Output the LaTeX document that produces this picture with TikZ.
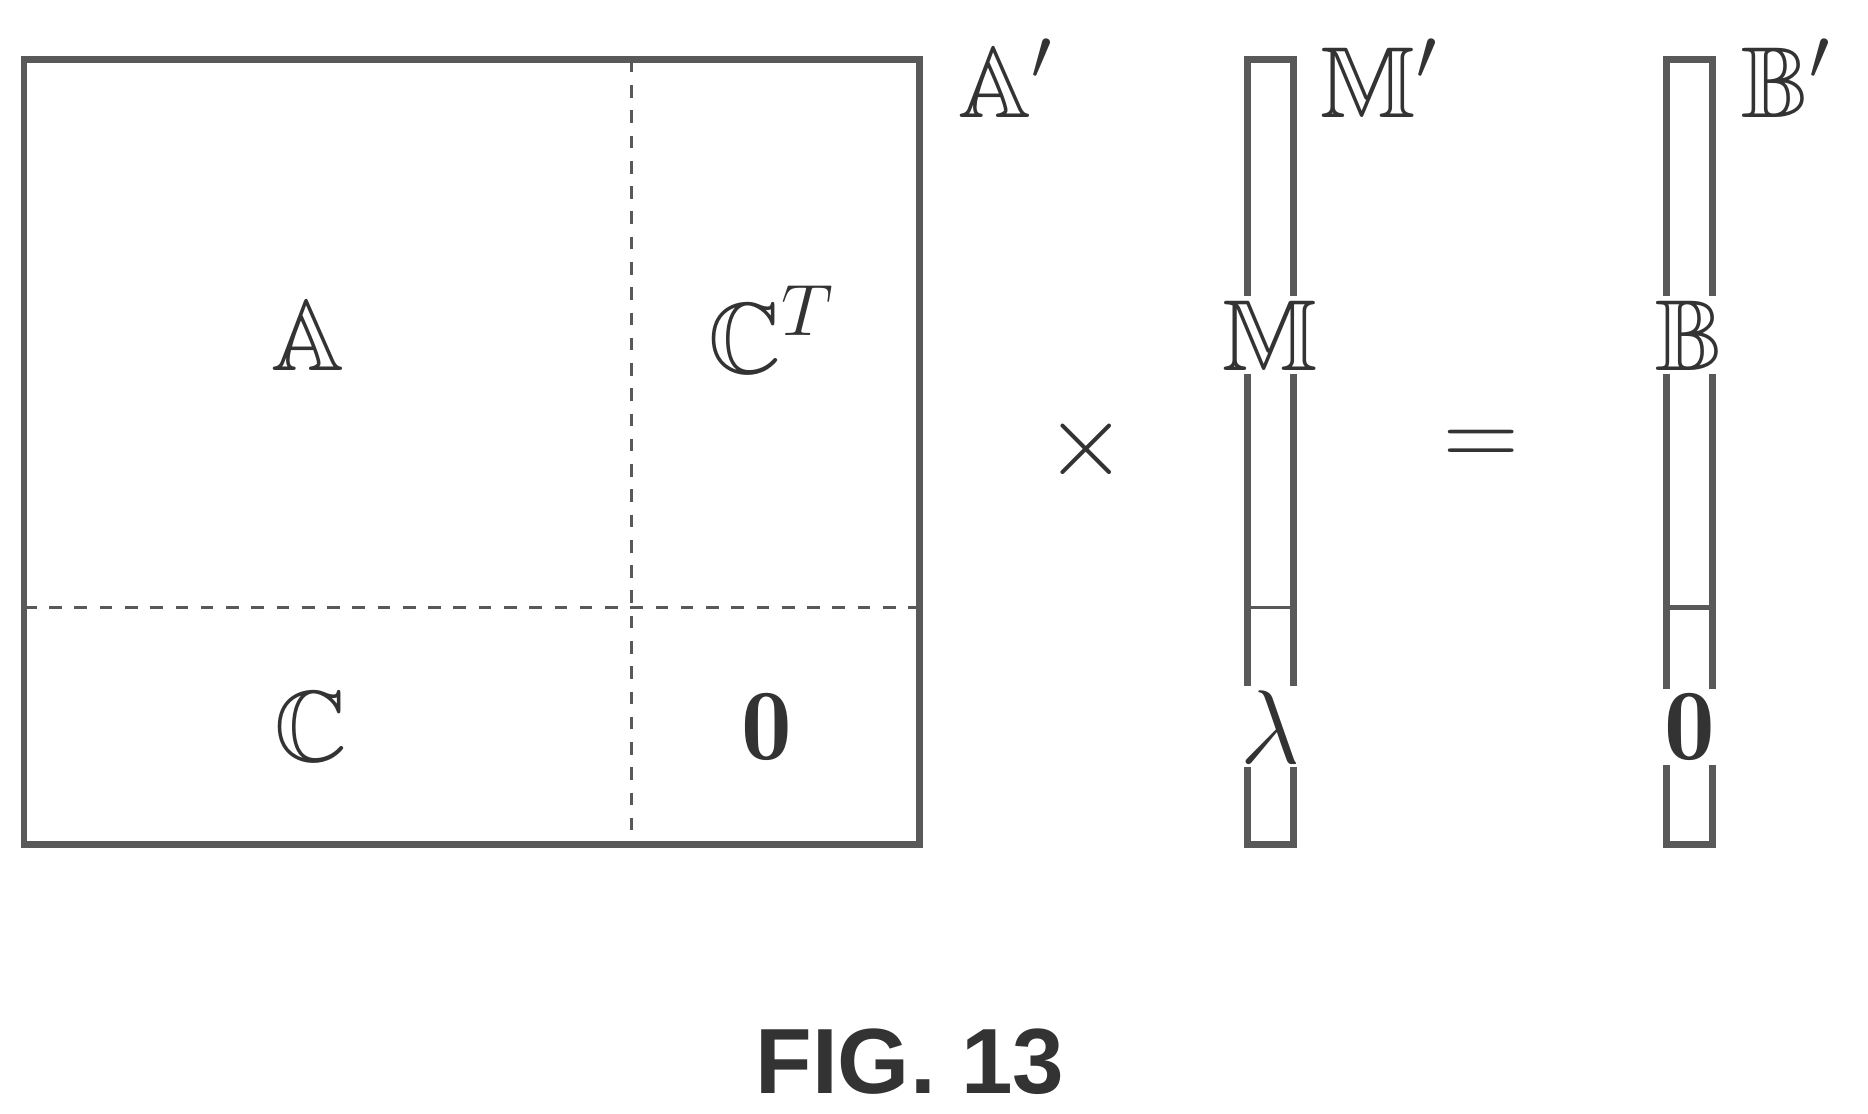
\documentclass[tikz,border=0pt]{standalone}
\usepackage{amssymb}
\usepackage{fontspec}
\newfontfamily\figfont{Liberation Sans}
\tikzset{
  frame/.style={draw=gray!70!black, line width=1.6pt},
  split/.style={draw=gray!70!black, dashed, line width=0.7pt},
  entry/.style={font=\fontsize{24}{26}\selectfont, fill=white, inner sep=1pt, text=gray!40!black},
  tag/.style={font=\fontsize{24}{26}\selectfont, text=gray!40!black}
}
\begin{document}
\begin{tikzpicture}[x=0.01cm,y=0.01cm]
\useasboundingbox (0,0) rectangle (1560,930);
% big matrix
\coordinate (bigNW) at (20,880);
\coordinate (bigSE) at (768,225);
\draw[frame] (bigNW) rectangle (bigSE);
\draw[split] (527,880) -- (527,225);
\draw[split] (20,423) -- (768,423);
\node[entry] (A) at (257,650) {$\mathbb{A}$};
\node[entry] (CT) at (645,655) {$\mathbb{C}^T$};
\node[entry] (C) at (260,323) {$\mathbb{C}$};
\node[entry] (Z1) at (640,323) {$\mathbf{0}$};
\node[tag] (Ap) at (840,865) {$\mathbb{A}'$};
\node[tag] (times) at (907,555) {$\times$};
% unknown vector
\draw[frame] (1042,880) rectangle (1080,225);
\draw[frame, line width=0.7pt] (1042,423) -- (1080,423);
\node[entry] (M) at (1061,650) {$\mathbb{M}$};
\node[entry] (lam) at (1061,323) {$\lambda$};
\node[tag] (Mp) at (1152,865) {$\mathbb{M}'$};
\node[tag] (eq) at (1237,555) {$=$};
% right-hand side
\draw[frame] (1392,880) rectangle (1430,225);
\draw[frame, line width=1.2pt] (1392,423) -- (1430,423);
\node[entry] (B) at (1411,650) {$\mathbb{B}$};
\node[entry] (Z2) at (1411,323) {$\mathbf{0}$};
\node[tag] (Bp) at (1492,865) {$\mathbb{B}'$};
% caption
\node[font=\figfont\bfseries\fontsize{22}{24}\selectfont, text=gray!40!black] (cap) at (760,43) {FIG. 13};
\end{tikzpicture}
\end{document}
